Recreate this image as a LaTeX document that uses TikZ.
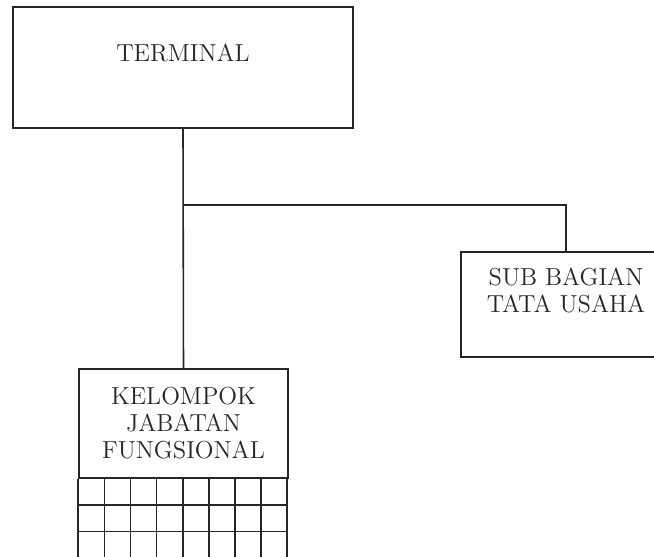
\documentclass[tikz,border=0pt]{standalone}
\usepackage{tikz}
\usetikzlibrary{calc,positioning}
\definecolor{ink}{HTML}{262626}

\begin{document}
\begin{tikzpicture}[x=0.02cm,y=-0.02cm,line width=0.9pt,draw=ink,
    box/.style={draw=ink,rectangle,inner sep=0pt},
    lbl/.style={text=ink,align=center,font=\fontsize{14}{15.4}\selectfont}]
  \useasboundingbox (0,0) rectangle (654,557);
  % boxes
  \node[box,minimum width=6.8cm,minimum height=2.42cm] (terminal) at (183,67.5) {};
  \node[lbl] (terminaltxt) at ($(terminal.center)+(0,-15)$) {TERMINAL};
  \node[box,minimum width=4.2cm,minimum height=2.1cm] (tu) at (566,304.5) {};
  \node[lbl] (tutxt) at ($(tu.center)+(0,-14)$) {SUB BAGIAN\\TATA USAHA};
  \node[box,lbl,minimum width=4.18cm,minimum height=2.18cm] (jf) at (183.5,423.5)
    {KELOMPOK\\JABATAN\\FUNGSIONAL};
  % connectors
  \coordinate (branch) at (183,205);
  \draw (terminal.south) -- (jf.north);
  \draw (branch) -| (tu.north);
  % grid under the group box
  \foreach \i in {0,...,8}
    \draw ($(jf.south west)+(26.125*\i,0)$) -- ++(0,82);
  \foreach \j in {1,2,3}
    \draw ($(jf.south west)+(0,26.3*\j)$) -- ++(209,0);
\end{tikzpicture}
\end{document}
